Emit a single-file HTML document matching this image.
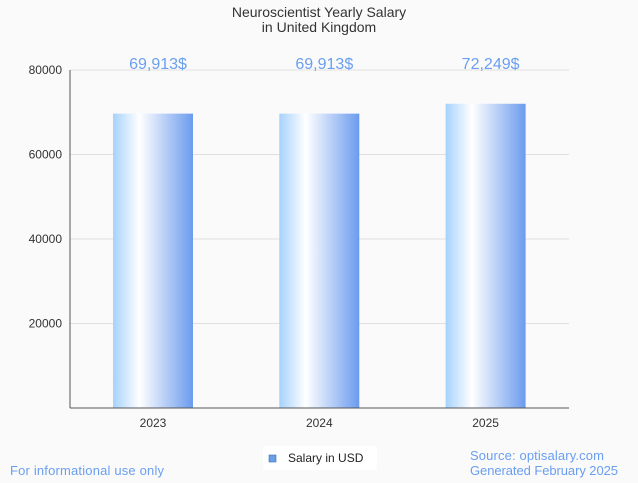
<!DOCTYPE html>
<html><head><meta charset="utf-8"><style>
body{margin:0;background:#fafafa;font-family:"Liberation Sans",sans-serif}
svg text{font-family:"Liberation Sans",sans-serif}
</style></head><body>
<svg width="638" height="478" viewBox="0 0 638 478">
<defs><linearGradient id="g" x1="0" x2="1" y1="0" y2="0">
<stop offset="0" stop-color="#a6d2fc"/><stop offset="0.33" stop-color="#ffffff"/><stop offset="1" stop-color="#6b9bee"/>
</linearGradient></defs>
<rect width="638" height="478" fill="#fafafa"/>
<text x="319" y="17" text-anchor="middle" font-size="14" fill="#333">Neuroscientist Yearly Salary</text>
<text x="319" y="32" text-anchor="middle" font-size="14" fill="#333">in United Kingdom</text>
<g id="grid"></g><g id="bars"></g>
<line x1="70" y1="70" x2="70" y2="408" stroke="#555"/>
<line x1="70" y1="408" x2="569" y2="408" stroke="#555"/>
<g>
<rect x="263" y="446" width="114" height="24" fill="#fff"/>
<rect x="269" y="455" width="7" height="7" fill="#6a9fe8" stroke="#3d6fb0" stroke-width="0.6"/>
<text x="288" y="462" font-size="12" fill="#222">Salary in USD</text>
</g>
<text x="10" y="475" font-size="13" textLength="154" fill="#6a9ef0">For informational use only</text>
<text x="470" y="460" font-size="13" textLength="134" fill="#6a9ef0">Source: optisalary.com</text>
<text x="470" y="475" font-size="13" textLength="148" fill="#6a9ef0">Generated February 2025</text>
</svg>
<script>
const categories=["2023","2024","2025"];
const values=[69913,69913,72249];
const labels=["69,913$","69,913$","72,249$"];
const ticks=[20000,40000,60000,80000];
const NS="http://www.w3.org/2000/svg";
const y=v=>408-v*338/80000;
const x=i=>70+166.3*i+83;
function mk(t,a,txt){const e=document.createElementNS(NS,t);for(const k in a)e.setAttribute(k,a[k]);if(txt)e.textContent=txt;return e;}
const grid=document.getElementById('grid'),bars=document.getElementById('bars');
ticks.forEach(t=>{
 const l=mk('line',{x1:70,x2:569,y1:y(t),y2:y(t),stroke:'#e0e0e0'});
 
 
 grid.appendChild(l);
 const tx=mk('text',{x:62,y:y(t)+4,'text-anchor':'end','font-size':12,fill:'#333'},String(t));
 
 
 grid.appendChild(tx);
});
categories.forEach((c,i)=>{
 const b=mk('rect',{x:x(i)-40,y:y(values[i])+1,width:80,height:408-y(values[i])-1,fill:'url(#g)'});
 
 
 bars.appendChild(b);
 const v=mk('text',{x:x(i)+5,y:69,'text-anchor':'middle','font-size':16,fill:'#6a9ef0'},labels[i]);
 
 
 bars.appendChild(v);
 const xl=mk('text',{x:x(i),y:427,'text-anchor':'middle','font-size':12,fill:'#333'},c);
 
 
 bars.appendChild(xl);
});
</script>
</body></html>
